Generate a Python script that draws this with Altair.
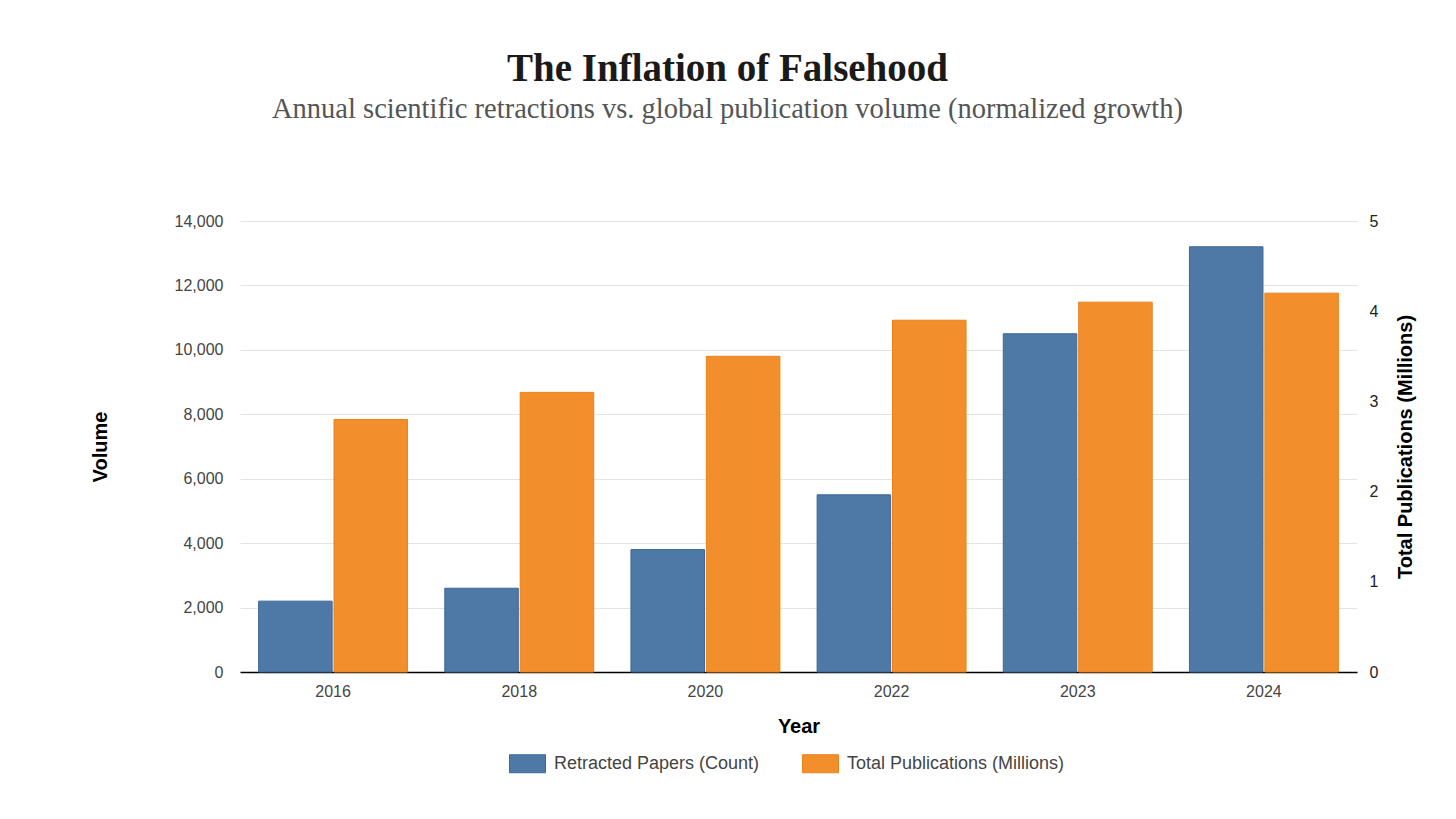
import altair as alt
import pandas as pd

years = ["2016", "2018", "2020", "2022", "2023", "2024"]
retracted = [2200, 2600, 3800, 5500, 10500, 13200]
total_pubs = [2.8, 3.1, 3.5, 3.9, 4.1, 4.2]
series_names = ["Retracted Papers (Count)", "Total Publications (Millions)"]
colors = ["#4e79a7", "#f28e2b"]
strokes = ["#3a6898", "#e9821d"]

df = pd.DataFrame({"Year": years, "retracted": retracted, "total": total_pubs})

x = alt.X(
    "Year:N", sort=years,
    scale=alt.Scale(paddingInner=0.2, paddingOuter=0.1),
    axis=alt.Axis(title="Year", labelAngle=0, ticks=False, domainColor="#000000",
                  domainWidth=1.5, labelFontSize=16, labelColor="#444444", labelPadding=11,
                  titleFontSize=20, titlePadding=17, titleColor="#000000"),
)
xoff = alt.XOffset("series:N", scale=alt.Scale(domain=series_names, paddingInner=0.025))
color = alt.Color(
    "series:N",
    scale=alt.Scale(domain=series_names, range=colors),
    legend=alt.Legend(title=None, orient="none", direction="horizontal", legendX=269, legendY=524,
                      symbolType="M-1,-0.5L1,-0.5L1,0.5L-1,0.5Z", symbolSize=1296,
                      symbolStrokeWidth=1, labelFontSize=18, labelColor="#444444", labelLimit=400,
                      columnPadding=40, labelOffset=8),
)
stroke = alt.Stroke("series:N", scale=alt.Scale(domain=series_names, range=strokes), legend=None)

left = alt.Chart(df).transform_calculate(series="'Retracted Papers (Count)'").mark_bar(strokeWidth=1).encode(
    x=x, xOffset=xoff, color=color, stroke=stroke,
    y=alt.Y("retracted:Q", scale=alt.Scale(domain=[0, 14000]),
            axis=alt.Axis(title="Volume", orient="left", values=list(range(0, 14001, 2000)),
                          format=",.0f", formatType="number", ticks=False, domain=False, grid=True,
                          gridColor="#e3e3e3",
                          labelFontSize=16, labelColor="#444444", labelPadding=17,
                          titleFontSize=20, titlePadding=64, titleColor="#000000")),
)
right = alt.Chart(df).transform_calculate(series="'Total Publications (Millions)'").mark_bar(strokeWidth=1).encode(
    x=x, xOffset=xoff, color=color, stroke=stroke,
    y=alt.Y("total:Q", scale=alt.Scale(domain=[0, 5]),
            axis=alt.Axis(title="Total Publications (Millions)", orient="right", values=[0, 1, 2, 3, 4, 5],
                          ticks=False, domain=False, grid=False,
                          labelFontSize=16, labelColor="#222222", labelPadding=12,
                          titleFontSize=20, titlePadding=38, titleColor="#000000", titleAngle=270)),
)

chart = alt.layer(left, right).resolve_scale(y="independent").properties(
    width=1117, height=451,
    padding={"left": 82, "top": 41, "right": 10, "bottom": 10},
    title=alt.TitleParams(
        text="The Inflation of Falsehood",
        subtitle="Annual scientific retractions vs. global publication volume (normalized growth)",
        font="Liberation Serif", fontSize=39, fontWeight="bold", color="#1a1a1a",
        subtitleFont="Liberation Serif", subtitleFontSize=28.5, subtitleColor="#555555",
        subtitlePadding=6, anchor="middle", frame="group", dx=-71, offset=90,
    ),
).configure_view(stroke=None).configure_axis(
    labelFont="Liberation Sans", titleFont="Liberation Sans", titleFontWeight="bold"
).configure_legend(labelFont="Liberation Sans")

chart.save("out.html", embed_options={"renderer": "svg", "actions": False})
